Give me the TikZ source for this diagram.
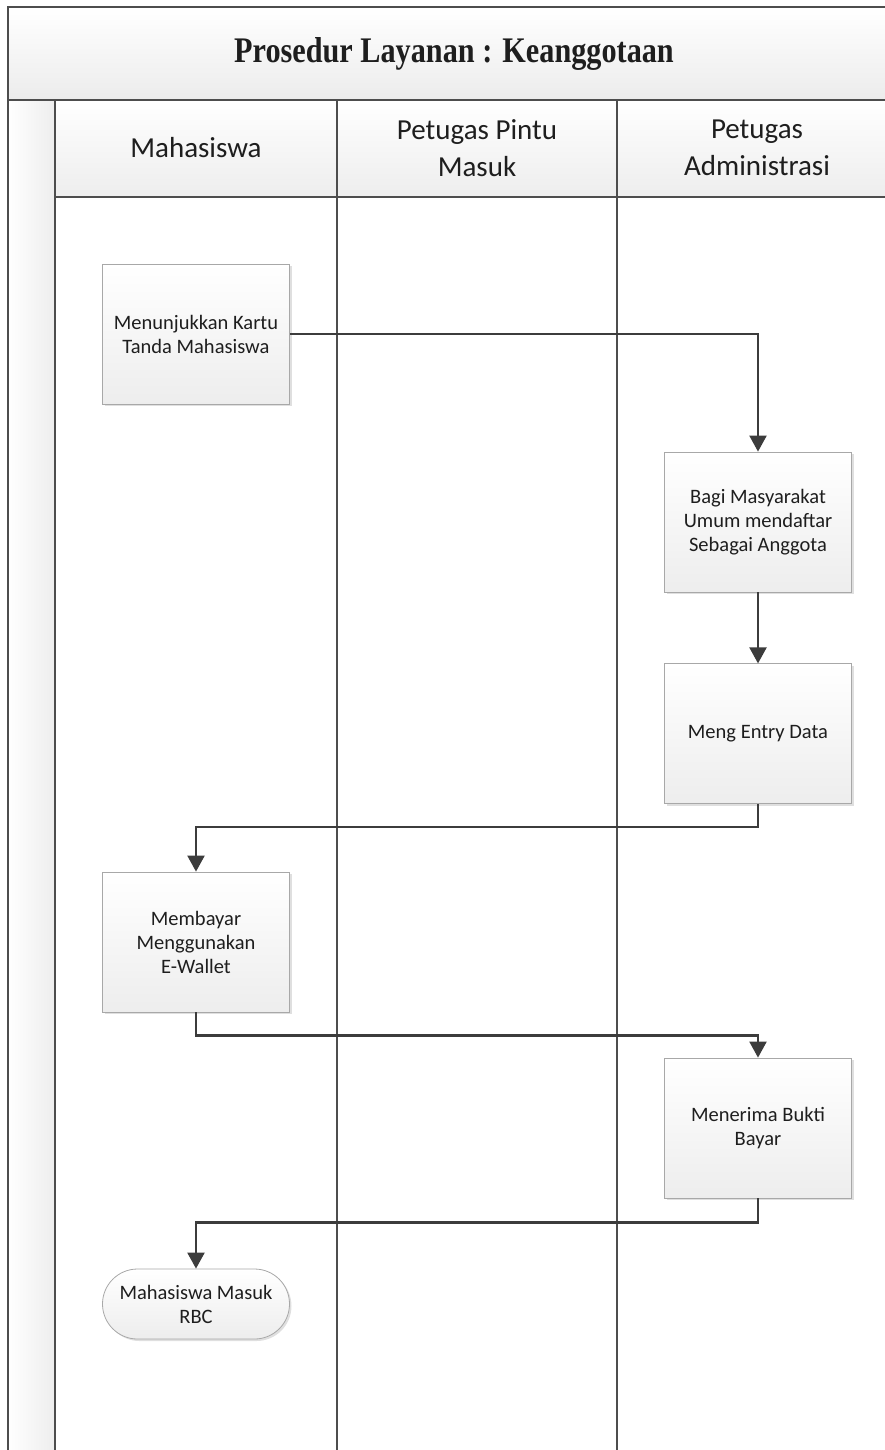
\documentclass[tikz,border=0pt]{standalone}
\usepackage{fontspec}
\setmainfont{Carlito}
\newfontfamily\titlefont[FakeStretch=0.84]{Liberation Serif}
\usetikzlibrary{positioning,arrows.meta,shadows}
\definecolor{frameline}{HTML}{4D4D4D}
\definecolor{boxline}{HTML}{A8A8A8}
\definecolor{flowline}{HTML}{3C3C3C}
\definecolor{txt}{HTML}{1E1E1E}

\begin{document}
\begin{tikzpicture}[x=1pt, y=-1pt, node distance=71pt, every node/.style={font=\fontsize{20.5}{24}\selectfont, text=txt}]
\tikzstyle{proc}=[draw=boxline, line width=0.8pt, top color=white, bottom color=gray!14, align=center, minimum width=187pt, minimum height=140pt, inner sep=4pt, drop shadow={opacity=0.25, shadow xshift=2pt, shadow yshift=-2pt}]
\tikzstyle{term}=[proc, rounded corners=35pt, minimum height=70pt]
\tikzstyle{flow}=[draw=flowline, line width=2.2pt, -{Triangle[length=16pt,width=17pt]}]
\tikzstyle{lanehead}=[font=\fontsize{29}{37}\selectfont, align=center]
\clip (0,0) rectangle (885,1450);
% pool frame and lanes
\fill[top color=white, bottom color=gray!15] (8,7) rectangle (897,100);
\fill[left color=white, right color=gray!14] (8,100) rectangle (55,1460);
\fill[top color=white, bottom color=gray!14] (55,100) rectangle (897,197);
\draw[frameline, line width=1.6pt] (8,1460) -- (8,7) -- (897,7) -- (897,1460);
\draw[frameline, line width=1.6pt] (8,100) -- (897,100) (55,197) -- (897,197);
\draw[frameline, line width=1.6pt] (55,100) -- (55,1460) (337,100) -- (337,1460) (617,100) -- (617,1460);
\node[font=\titlefont\bfseries\fontsize{36}{40}\selectfont] (title) at (454,54) {Prosedur Layanan : Keanggotaan};
\node[lanehead] (mhs) at (196,148) {Mahasiswa};
\node[lanehead] (pintu) at (477,148) {Petugas Pintu\\Masuk};
\node[lanehead] (admin) at (757,148) {Petugas\\Administrasi};
% steps
\node[proc] (kartu) at (196,334) {Menunjukkan Kartu\\Tanda Mahasiswa};
\node[proc] (daftar) at (758,522) {Bagi Masyarakat\\Umum mendaftar\\Sebagai Anggota};
\node[proc, below=of daftar] (entry) {Meng Entry Data};
\node[proc] (bayar) at (196,942) {Membayar\\Menggunakan\\E-Wallet};
\node[proc] (bukti) at (758,1128) {Menerima Bukti\\Bayar};
\node[term] (masuk) at (196,1304) {Mahasiswa Masuk\\RBC};
\draw[flow] (kartu.east) -| (daftar.north);
\draw[flow] (daftar) -- (entry);
\draw[flow] (entry.south) -- ++(0,23) -| (bayar.north);
\draw[flow] (bayar.south) -- ++(0,23) -| (bukti.north);
\draw[flow] (bukti.south) -- ++(0,24) -| (masuk.north);
\end{tikzpicture}
\end{document}
